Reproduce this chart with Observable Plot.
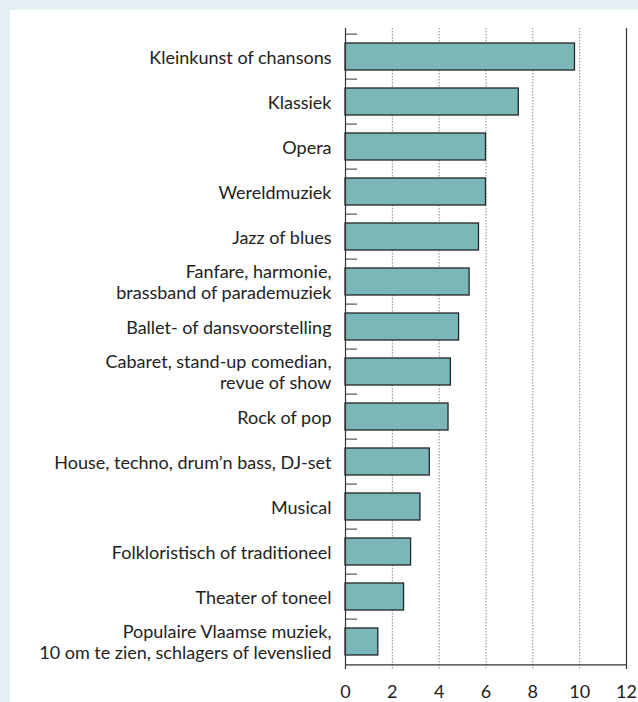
<!DOCTYPE html>
<html>
<head>
<meta charset="utf-8">
<script src="https://cdn.jsdelivr.net/npm/d3@7"></script>
<script src="https://cdn.jsdelivr.net/npm/@observablehq/plot@0.6"></script>
<style>
  html, body { margin: 0; padding: 0; background: #e4eff4; width: 638px; height: 702px; overflow: hidden; }
  #panel { position: absolute; left: 10px; top: 10px; width: 628px; height: 692px; background: #ffffff; }
  #panel svg { display: block; }
</style>
</head>
<body>
<div id="panel"></div>
<script>
const categories = [
  "Kleinkunst of chansons",
  "Klassiek",
  "Opera",
  "Wereldmuziek",
  "Jazz of blues",
  "Fanfare, harmonie,\nbrassband of parademuziek",
  "Ballet- of dansvoorstelling",
  "Cabaret, stand-up comedian,\nrevue of show",
  "Rock of pop",
  "House, techno, drum’n bass, DJ-set",
  "Musical",
  "Folkloristisch of traditioneel",
  "Theater of toneel",
  "Populaire Vlaamse muziek,\n10 om te zien, schlagers of levenslied"
];
const values = [9.8, 7.4, 6.0, 6.0, 5.7, 5.3, 4.85, 4.5, 4.4, 3.6, 3.2, 2.8, 2.5, 1.4];
const xTicks = [0, 2, 4, 6, 8, 10, 12];
const gridTicks = [2, 4, 6, 8, 10];

const data = categories.map((c, i) => ({category: c, value: values[i]}));

const W = 628, H = 692;
const mTop = 18, mBottom = 33, mLeft = 335, mRight = 12;
const step = (H - mTop - mBottom) / categories.length;
const font = "Lato, 'Open Sans', sans-serif";

const chart = Plot.plot({
  width: W,
  height: H,
  marginTop: mTop,
  marginBottom: mBottom,
  marginLeft: mLeft,
  marginRight: mRight,
  style: {fontFamily: font, fontSize: "18px", color: "#222", background: "white"},
  x: {domain: [0, 12], ticks: xTicks, label: null},
  y: {domain: categories, paddingInner: 0.41, paddingOuter: 0.205, align: 0.5, label: null},
  marks: [
    Plot.ruleX(gridTicks, {stroke: "#8a8a8a", strokeWidth: 1, strokeDasharray: "1.5,1.5"}),
    Plot.barX(data, {x: "value", y: "category", fill: "#7bb6b8", stroke: "#262626", strokeWidth: 1.3}),
    Plot.ruleX([0, 12], {stroke: "#333", strokeWidth: 1.2}),
    Plot.ruleY(categories, {y: d => d, x1: 0, x2: 12 * 12 / (W - mLeft - mRight), dy: -step / 2, stroke: "#333", strokeWidth: 1}),
    Plot.ruleY([categories[categories.length - 1]], {y: d => d, x1: 0, x2: 12, dy: step / 2, stroke: "#333", strokeWidth: 1.2}),
    Plot.text(data, {x: 0, y: "category", text: "category", textAnchor: "end", dx: -14, lineHeight: 1.13, fill: "#222", fontSize: 18}),
    Plot.axisX({ticks: xTicks, tickSize: 0, tickPadding: 16, label: null, fontSize: 18, fill: "#222"}),
    Plot.axisY({ticks: [], label: null})
  ]
});
document.getElementById("panel").appendChild(chart);
</script>
</body>
</html>
